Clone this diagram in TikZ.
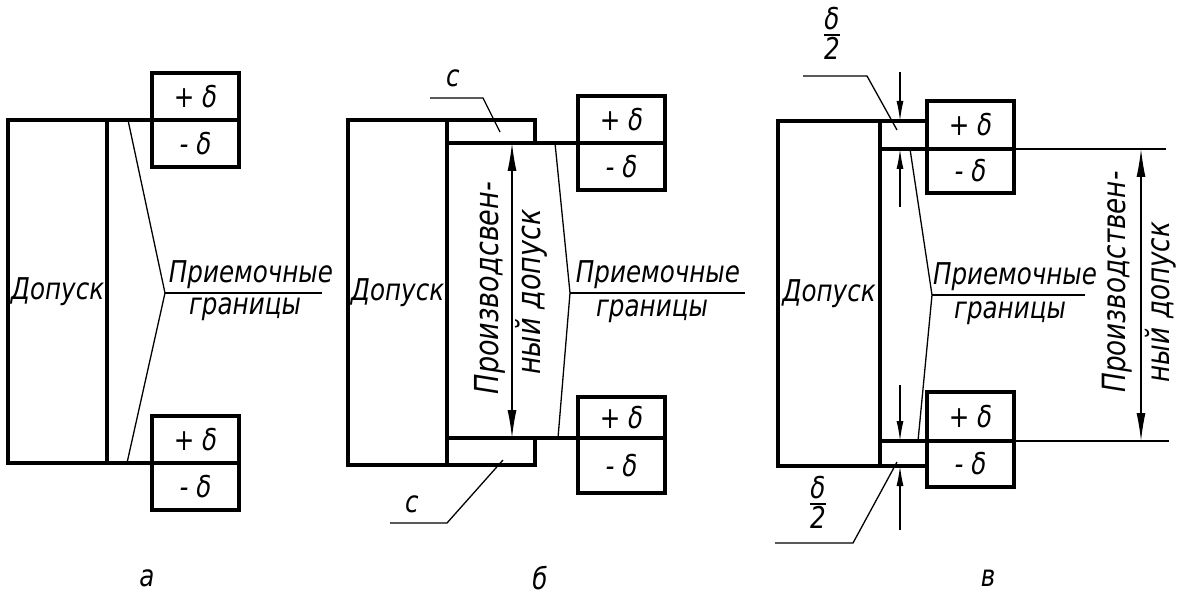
\documentclass[tikz,border=0pt]{standalone}
\usepackage{fontspec}
\setmainfont{DejaVu Sans}[FakeStretch=0.82]
\usepackage{tikz}
\usetikzlibrary{arrows.meta, positioning, calc}

\newcommand{\lbfont}{\fontsize{30}{32}\selectfont\itshape}
\newcommand{\halfdelta}{\begin{tabular}{@{}c@{}}δ\\\noalign{\vskip-5pt\hrule height 2.5pt\vskip1pt}2\end{tabular}}

\begin{document}
\begin{tikzpicture}[
    x=1pt, y=-1pt,
    >={Latex[length=28pt,width=9pt]},
    thickline/.style={line width=4.5pt},
    thinline/.style={line width=1.3pt},
    tolbox/.style={rectangle, draw, line width=4.5pt, anchor=north west,
                   outer sep=0pt, inner sep=0pt, font=\lbfont},
    devbox/.style={rectangle, draw, line width=4.5pt, minimum width=87pt,
                   minimum height=47pt, outer sep=0pt, inner sep=0pt, font=\lbfont},
    lbl/.style={font=\lbfont, inner sep=1pt},
    halfarrow/.style={->, thinline, >={Latex[length=20pt,width=7pt]}}
]
\useasboundingbox (0,0) rectangle (1185,596);

% --- a ---
\node[tolbox, minimum width=99pt, minimum height=343pt] (tola) at (8,120) {Допуск};
\node[devbox, anchor=south west] (apu) at (152,120) {+ δ};
\node[devbox, below=0pt of apu] (amu) {- δ};
\node[devbox, anchor=south west] (apl) at (152,463) {+ δ};
\node[devbox, below=0pt of apl] (aml) {- δ};
\draw[thickline] (tola.north east) -- (apu.south west);
\draw[thickline] (tola.south east) -- (apl.south west);
\coordinate (atip) at (165,293);
\draw[thinline] ($(tola.north east)+(21,0)$) -- (atip) -- ($(tola.south east)+(20,0)$);
\draw[thinline] (atip) -- ++(157,0) coordinate (aend);
\node[lbl, anchor=south] (acca) at (251,290) {Приемочные};
\node[lbl, anchor=north] (brda) at (245,296) {границы};

% --- b ---
\node[tolbox, minimum width=99pt, minimum height=345pt] (tolb) at (348,120) {Допуск};
\node[devbox, anchor=south west] (bpu) at (578,143) {+ δ};
\node[devbox, below=0pt of bpu] (bmu) {- δ};
\node[devbox, anchor=south west, minimum height=41pt] (bpl) at (578,438) {+ δ};
\node[devbox, below=0pt of bpl, minimum height=55pt] (bml) {- δ};
\coordinate (bj1) at ($(tolb.north east)+(0,23)$);
\coordinate (bj2) at ($(tolb.south east)+(0,-27)$);
\draw[thickline] (tolb.north east) -- ++(88,0) -- ++(0,23);
\draw[thickline] (tolb.south east) -- ++(88,0) -- ++(0,-27);
\draw[thickline] (bj1) -- (bpu.south west);
\draw[thickline] (bj2) -- (bpl.south west);
\draw[<->, thinline] ($(bj1)+(65,0)$) -- ($(bj2)+(65,0)$);
\node[lbl, rotate=90, font=\fontsize{33}{35}\selectfont\itshape] (prodb) at (490,288) {Производсвен-};
\node[lbl, rotate=90, font=\fontsize{33}{35}\selectfont\itshape] (dopb) at (531,292) {ный допуск};
\coordinate (btip) at (570,293);
\draw[thinline] ($(bj1)+(108,0)$) -- (btip) -- ($(bj2)+(111,0)$);
\draw[thinline] (btip) -- ++(175,0) coordinate (bend);
\node[lbl, anchor=south] (accb) at (658,290) {Приемочные};
\node[lbl, anchor=north] (brdb) at (652,298) {границы};
% c
\node[lbl] (ctop) at (453,78) {c};
\draw[thinline] (430,98) -- (483,98) -- ($(tolb.north east)+(53,12)$);
\node[lbl] (cbot) at (412,504) {c};
\draw[thinline] (390,523) -- (447,523) -- ($(tolb.south east)+(56,-5)$);

% --- v ---
\node[tolbox, minimum width=102pt, minimum height=345pt] (tolc) at (778,121) {Допуск};
\node[devbox, anchor=south west, minimum height=48pt] (cpu) at (927,149) {+ δ};
\node[devbox, below=0pt of cpu, minimum height=44pt] (cmu) {- δ};
\node[devbox, anchor=south west, minimum height=49pt] (cpl) at (927,441) {+ δ};
\node[devbox, below=0pt of cpl, minimum height=46pt] (cml) {- δ};
\coordinate (cj1) at ($(tolc.north east)+(0,28)$);
\coordinate (cj2) at ($(tolc.south east)+(0,-25)$);
\draw[thickline] (tolc.north east) -- (tolc.north east -| cpu.west);
\draw[thickline] (tolc.south east) -- (tolc.south east -| cml.west);
\draw[thickline] (cj1) -- (cpu.south west);
\draw[thickline] (cj2) -- (cpl.south west);
% dimension
\draw[thinline] (cmu.north east) -- ++(152,0) coordinate (cdu);
\draw[thinline] (cml.north east) -- ++(155,0) coordinate (cdl);
\draw[<->, thinline] ($(cmu.north east)+(127,0)$) -- ($(cml.north east)+(127,0)$);
\node[lbl, rotate=90, font=\fontsize{32}{34}\selectfont\itshape] (prodc) at (1117,282) {Производствен-};
\node[lbl, rotate=90, font=\fontsize{32}{34}\selectfont\itshape] (dopc) at (1161,302) {ный допуск};
% delta/2
\draw[halfarrow] (900,72) -- ($(tolc.north east)+(20,0)$);
\draw[halfarrow] (900,207) -- ($(cj1)+(20,0)$);
\draw[halfarrow] (900,385) -- ($(cj2)+(20,0)$);
\draw[halfarrow] (900,530) -- ($(tolc.south east)+(20,0)$);
\node[lbl] (halfu) at (832,38) {\halfdelta};
\draw[thinline] (803,76) -- (867,76) -- ($(tolc.north east)+(17,9)$);
\node[lbl] (halfl) at (818,507) {\halfdelta};
\draw[thinline] (775,543) -- (853,543) -- ($(tolc.south east)+(17,-4)$);
\coordinate (ctip) at (932,295);
\draw[thinline] ($(cj1)+(30,0)$) -- (ctip) -- ($(cj2)+(38,0)$);
\draw[thinline] (ctip) -- ++(153,0) coordinate (cend);
\node[lbl, anchor=south] (accc) at (1015,292) {Приемочные};
\node[lbl, anchor=north] (brdc) at (1010,300) {границы};

% captions
\foreach \x/\t in {147/а, 540/б, 988/в} {
    \node[lbl] (cap\x) at (\x,578) {\t};
}
\end{tikzpicture}
\end{document}
